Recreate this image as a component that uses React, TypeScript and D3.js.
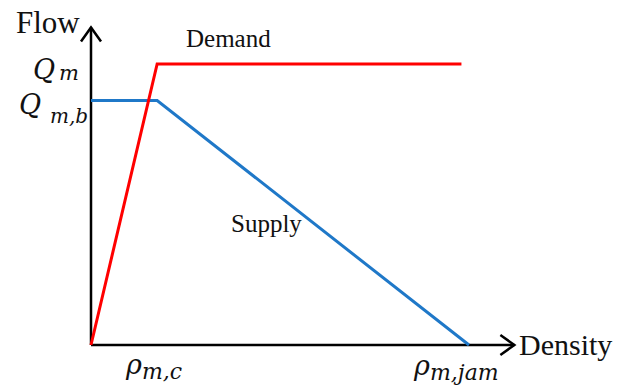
import React from "react";
import * as d3 from "d3";

// Fundamental diagram values (normalized units)
const rhoC = 0.175; // critical density
const rhoJam = 1.0; // jam density
const demandEnd = 0.98; // where the demand line stops
const densityAxisMax = 1.12;
const Qm = 1.0; // max flow
const Qmb = 0.87; // bottleneck max flow
const flowAxisMax = 1.13;

const demandDensity = [0, rhoC, demandEnd];
const demandFlow = [0, Qm, Qm];
const supplyDensity = [0, rhoC, rhoJam];
const supplyFlow = [Qmb, Qmb, 0];

const W = 617;
const H = 386;
const x0 = 91;
const y0 = 345;

export default function App() {
  const x = d3.scaleLinear().domain([0, rhoJam]).range([x0, 469]);
  const y = d3.scaleLinear().domain([0, Qm]).range([y0, 64]);
  const line = d3
    .line<[number, number]>()
    .x((d) => x(d[0]))
    .y((d) => y(d[1]));
  const demand = demandDensity.map((d, i) => [d, demandFlow[i]] as [number, number]);
  const supply = supplyDensity.map((d, i) => [d, supplyFlow[i]] as [number, number]);

  const xEnd = x(densityAxisMax);
  const yEnd = y(flowAxisMax);
  const serif = "'Liberation Serif', 'Times New Roman', serif";
  const math = "'DejaVu Serif', serif";

  return (
    <svg
      width={W}
      height={H}
      style={{ position: "absolute", left: 0, top: 0, background: "#fff" }}
    >
      {/* axes */}
      <line x1={x0} y1={y0} x2={x0} y2={yEnd} stroke="#000" strokeWidth={2.5} />
      <line x1={x0} y1={y0} x2={xEnd} y2={y0} stroke="#000" strokeWidth={2.5} />
      <polyline
        points={`${x0 - 10},${yEnd + 14} ${x0},${yEnd} ${x0 + 10},${yEnd + 14}`}
        fill="none"
        stroke="#000"
        strokeWidth={2.5}
      />
      <polyline
        points={`${xEnd - 14},${y0 - 10} ${xEnd},${y0} ${xEnd - 14},${y0 + 10}`}
        fill="none"
        stroke="#000"
        strokeWidth={2.5}
      />
      {/* curves */}
      <path d={line(supply) || ""} fill="none" stroke="#1f78c8" strokeWidth={3} />
      <path d={line(demand) || ""} fill="none" stroke="#ff0000" strokeWidth={3} />

      {/* labels */}
      <text x={16} y={33} fontFamily={serif} fontSize={31} fill="#111">Flow</text>
      <text x={519} y={355} fontFamily={serif} fontSize={30} fill="#111">Density</text>
      <text x={186} y={47} fontFamily={serif} fontSize={25} fill="#111">Demand</text>
      <text x={231} y={232} fontFamily={serif} fontSize={25} fill="#111">Supply</text>

      <text x={33} y={79} fontFamily={math} fontStyle="italic" fontSize={27} fill="#111">Q</text>
      <text x={59} y={80} fontFamily={math} fontStyle="italic" fontSize={21} fill="#111">m</text>

      <text x={19} y={114} fontFamily={math} fontStyle="italic" fontSize={27} fill="#111">Q</text>
      <text x={50} y={123} fontFamily={math} fontStyle="italic" fontSize={20} fill="#111">m,b</text>

      <text x={126} y={374} fontFamily={math} fontStyle="italic" fontSize={27} fill="#111">ρ</text>
      <text x={142} y={379} fontFamily={math} fontStyle="italic" fontSize={22} fill="#111">m,c</text>

      <text x={414} y={375} fontFamily={math} fontStyle="italic" fontSize={27} fill="#111">ρ</text>
      <text x={430} y={380} fontFamily={math} fontStyle="italic" fontSize={22} fill="#111">m,jam</text>
    </svg>
  );
}
